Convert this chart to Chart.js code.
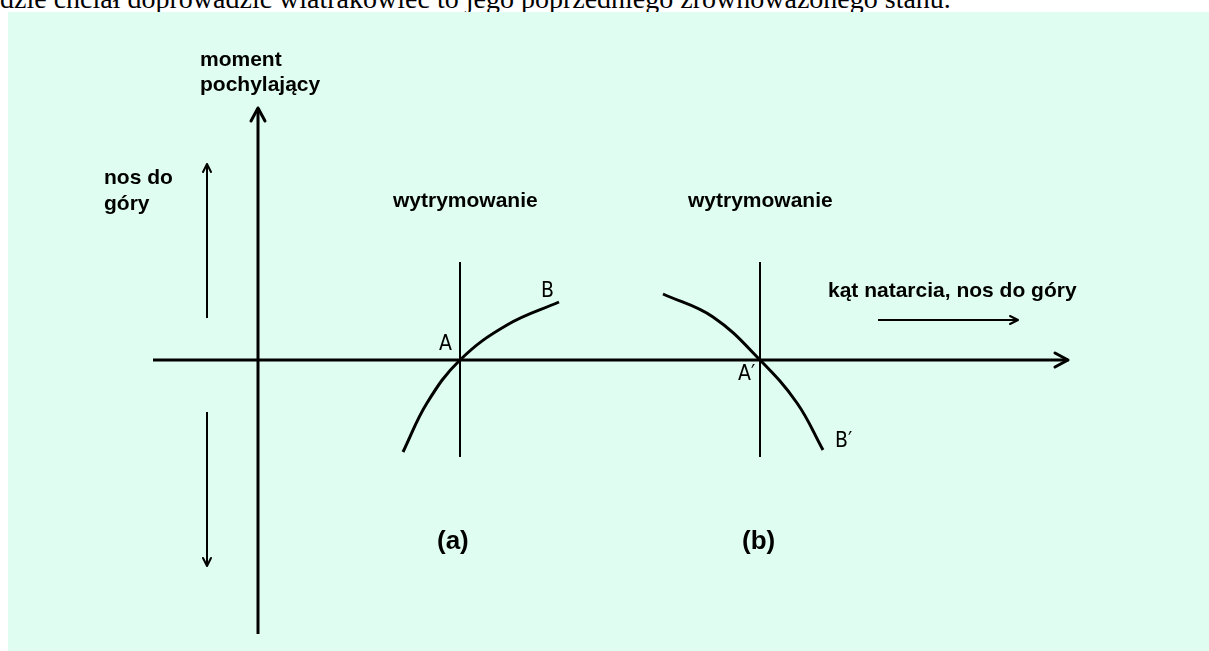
<!DOCTYPE html>
<html lang="pl">
<head>
<meta charset="utf-8">
<script src="https://cdn.jsdelivr.net/npm/chart.js@4.4.1/dist/chart.umd.min.js"></script>
<style>
  html, body { margin: 0; padding: 0; background: #fff; overflow: hidden; }
  #page { position: relative; width: 1209px; height: 651px; }
  #caption {
    position: absolute; left: 0; top: -17px;
    font: 28px "Liberation Serif", "Times New Roman", serif;
    white-space: nowrap; color: #000;
  }
  #panel { position: absolute; left: 8px; top: 12px; width: 1201px; height: 639px; background: #dffdf0; }
  #chart { position: absolute; left: 0; top: 0; }
</style>
</head>
<body>
<div id="page">
  <div id="caption">dzie chciał doprowadzić wiatrakowiec to jego poprzedniego zrównoważonego stanu.</div>
  <div id="panel"></div>
  <canvas id="chart" width="1209" height="651"></canvas>
</div>
<script>
// angle of attack (x) vs pitching moment (y), arbitrary units, origin at the axes crossing
const xAxisX = [-10.5, 81]
const yAxisY = [-27.4, 25.2]

// trim lines for (a) and (b)
const trimA_X = 20.2
const trimB_X = 50.2
const trimY = [-9.7, 9.8]

// curve (a): moment rises with angle
const curveA_X = [14.5, 16.9, 20.2, 24.9, 30.1]
const curveA_Y = [-9.2, -4.3, 0, 3.5, 5.8]

// curve (b): moment falls with angle
const curveB_X = [40.5, 45.5, 50.2, 53.9, 56.5]
const curveB_Y = [6.6, 4.3, 0, -4.3, -9.0]

// small direction arrows
const upArrowY = [4.2, 19.6]
const downArrowY = [-5.2, -20.6]
const sideArrowsX = -5.1
const rightArrowX = [62, 76]
const rightArrowY = 4.0

const pts = (xs, ys) => xs.map((x, i) => ({ x, y: ys[i] }))

const BOLD = '"Liberation Sans", Arial, sans-serif'
const NARROW = '"Liberation Sans Narrow", "DejaVu Sans Condensed", sans-serif'

const labels = [
  { text: 'moment', x: -5.8, y: 29.4, font: 'bold 21px ' + BOLD },
  { text: 'pochylający', x: -5.8, y: 26.9, font: 'bold 21px ' + BOLD },
  { text: 'nos do', x: -15.4, y: 17.6, font: 'bold 21px ' + BOLD },
  { text: 'góry', x: -15.4, y: 15.0, font: 'bold 21px ' + BOLD },
  { text: 'wytrymowanie', x: 13.5, y: 15.3, font: 'bold 21px ' + BOLD },
  { text: 'wytrymowanie', x: 43.0, y: 15.3, font: 'bold 21px ' + BOLD },
  { text: 'kąt natarcia, nos do góry', x: 57.0, y: 6.3, font: 'bold 21px ' + BOLD },
  { text: '(a)', x: 17.9, y: -18.9, font: 'bold 26px ' + BOLD },
  { text: '(b)', x: 48.4, y: -18.9, font: 'bold 26px ' + BOLD },
  { text: 'A', x: 18.1, y: 1.0, font: '21px ' + NARROW },
  { text: 'B', x: 28.3, y: 6.3, font: '21px ' + NARROW },
  { text: 'A′', x: 48.0, y: -2.0, font: '21px ' + NARROW },
  { text: 'B′', x: 57.7, y: -8.7, font: '21px ' + NARROW }
]

const line = (data, width, extra = {}) => ({
  data,
  showLine: true,
  borderColor: '#000',
  borderWidth: width,
  pointRadius: 0,
  fill: false,
  ...extra
})

// draws open arrow heads at the last point of datasets that ask for one
const arrowHeads = {
  id: 'arrowHeads',
  afterDatasetsDraw(chart) {
    const ctx = chart.ctx
    chart.data.datasets.forEach((ds, i) => {
      if (!ds.arrow) return
      const pts = chart.getDatasetMeta(i).data
      const p1 = pts[pts.length - 1]
      const p0 = pts[pts.length - 2]
      const a = Math.atan2(p1.y - p0.y, p1.x - p0.x)
      const { len, half } = ds.arrow
      ctx.save()
      ctx.strokeStyle = '#000'
      ctx.lineWidth = ds.borderWidth
      ctx.lineCap = 'round'
      ctx.beginPath()
      for (const s of [1, -1]) {
        ctx.moveTo(p1.x - len * Math.cos(a) - s * half * Math.sin(a),
                   p1.y - len * Math.sin(a) + s * half * Math.cos(a))
        ctx.lineTo(p1.x, p1.y)
      }
      ctx.stroke()
      ctx.restore()
    })
  }
}

const textLabels = {
  id: 'textLabels',
  afterDraw(chart) {
    const ctx = chart.ctx
    const { x, y } = chart.scales
    ctx.save()
    ctx.fillStyle = '#000'
    ctx.textAlign = 'left'
    ctx.textBaseline = 'alphabetic'
    labels.forEach(l => {
      ctx.font = l.font
      ctx.fillText(l.text, x.getPixelForValue(l.x), y.getPixelForValue(l.y))
    })
    ctx.restore()
  }
}

new Chart(document.getElementById('chart'), {
  type: 'scatter',
  data: {
    datasets: [
      line(pts(xAxisX, [0, 0]), 3, { arrow: { len: 13, half: 7 } }),
      line(pts([0, 0], yAxisY), 3, { arrow: { len: 13, half: 7 } }),
      line(pts([trimA_X, trimA_X], trimY), 2),
      line(pts([trimB_X, trimB_X], trimY), 2),
      line(pts(curveA_X, curveA_Y), 3, { tension: 0.4 }),
      line(pts(curveB_X, curveB_Y), 3, { tension: 0.4 }),
      line(pts([sideArrowsX, sideArrowsX], upArrowY), 2, { arrow: { len: 8, half: 4 } }),
      line(pts([sideArrowsX, sideArrowsX], downArrowY), 2, { arrow: { len: 8, half: 4 } }),
      line(pts(rightArrowX, [rightArrowY, rightArrowY]), 2, { arrow: { len: 8, half: 4 } })
    ]
  },
  options: {
    responsive: false,
    animation: false,
    events: [],
    layout: { padding: 0 },
    plugins: { legend: { display: false }, tooltip: { enabled: false } },
    scales: {
      x: { type: 'linear', min: -25.8, max: 95.1, display: false },
      y: { type: 'linear', min: -29.1, max: 36, display: false }
    }
  },
  plugins: [arrowHeads, textLabels]
})
</script>
</body>
</html>
